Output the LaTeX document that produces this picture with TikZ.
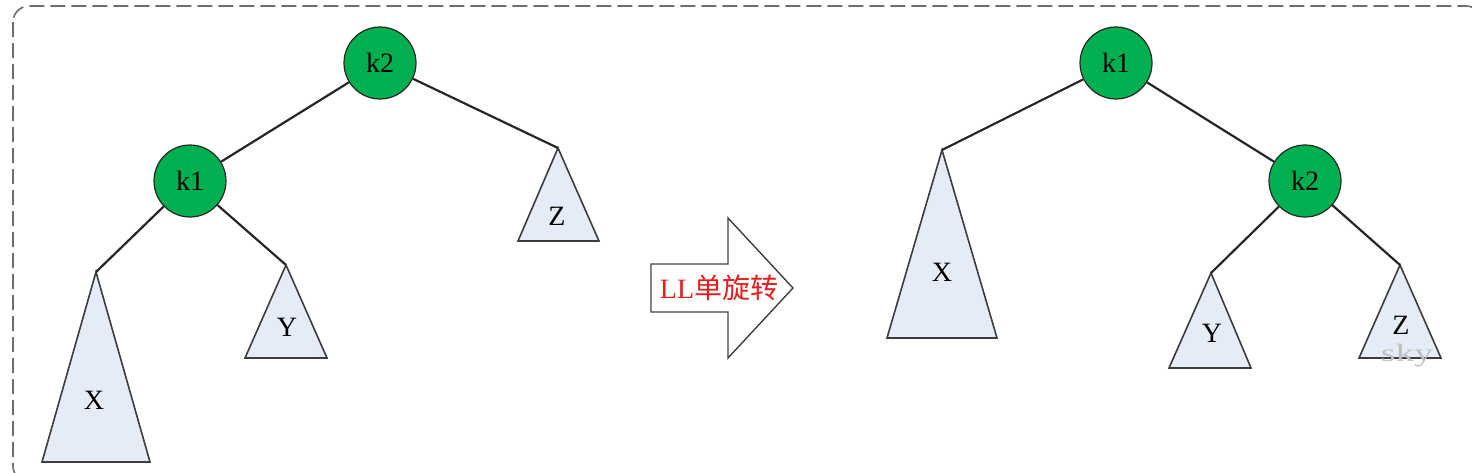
\documentclass[tikz,border=0pt]{standalone}
\usepackage{fontspec}
\setmainfont{Liberation Serif}
\newfontfamily\cjk{Noto Sans CJK SC}
\usetikzlibrary{calc}
\definecolor{nodegreen}{RGB}{0,176,80}
\definecolor{trifill}{RGB}{230,236,247}
\definecolor{tridraw}{RGB}{60,60,60}
\definecolor{bordergray}{RGB}{110,110,110}
\definecolor{labelred}{RGB}{230,30,30}
\tikzset{
  treenode/.style={circle,draw=black!85,line width=0.6pt,fill=nodegreen,minimum size=36pt,inner sep=0pt,font=\fontsize{14}{14}\selectfont},
  subtree/.style={draw=tridraw,line width=0.8pt,fill=trifill,line join=miter},
  edge/.style={draw=black!85,line width=1.1pt},
  trilabel/.style={font=\fontsize{14}{14}\selectfont,inner sep=0pt},
}
\begin{document}
\begin{tikzpicture}[x=0.5pt,y=-0.5pt]
\useasboundingbox (0,0) rectangle (1472,472);
% border
\draw[bordergray,dashed,dash pattern=on 7.5pt off 3pt,line width=0.8pt,rounded corners=8pt] (13,6) rectangle (1482,482);

% ---------- left tree ----------
\coordinate (LZa) at (558,148);
\coordinate (LXa) at (96,272);
\coordinate (LYa) at (286,265);
\path[subtree] (LZa) -- (599,241) -- (518,241) -- cycle;
\path[subtree] (LXa) -- (150,462) -- (42,462) -- cycle;
\path[subtree] (LYa) -- (327,358) -- (245,358) -- cycle;
\node[trilabel] (LZ) at (557,216) {Z};
\node[trilabel] (LX) at (94,400) {X};
\node[trilabel] (LY) at (287,327) {Y};

\node[treenode] (Lk2) at (380,63) {k2};
\node[treenode] (Lk1) at (190,181) {k1};
\draw[edge] (Lk2) -- (Lk1);
\draw[edge] (Lk2) -- (LZa);
\draw[edge] (Lk1) -- (LXa);
\draw[edge] (Lk1) -- (LYa);

% ---------- arrow ----------
\coordinate (A1) at (651,264);
\coordinate (A2) at (728,264);
\coordinate (A3) at (728,218);
\coordinate (A4) at (793,288);
\coordinate (A5) at (728,358);
\coordinate (A6) at (728,312);
\coordinate (A7) at (651,312);
\draw[draw=black!75,line width=0.7pt,fill=white] (A1) -- (A2) -- (A3) -- (A4) -- (A5) -- (A6) -- (A7) -- cycle;
\node[text=labelred,inner sep=0pt,font=\fontsize{14}{14}\selectfont] (rot) at (719,288) {LL{\cjk 单旋转}};

% ---------- right tree ----------
\coordinate (RXa) at (942,150);
\coordinate (RYa) at (1211,273);
\coordinate (RZa) at (1400,265);
\path[subtree] (RXa) -- (997,338) -- (887,338) -- cycle;
\path[subtree] (RYa) -- (1251,368) -- (1169,368) -- cycle;
\path[subtree] (RZa) -- (1441,358) -- (1359,358) -- cycle;
\node[trilabel] (RX) at (942,272) {X};
\node[trilabel] (RY) at (1212,333) {Y};
\node[trilabel] (RZ) at (1401,325) {Z};

\node[treenode] (Rk1) at (1116,63) {k1};
\node[treenode] (Rk2) at (1305,181) {k2};
\draw[edge] (Rk1) -- (RXa);
\draw[edge] (Rk1) -- (Rk2);
\draw[edge] (Rk2) -- (RYa);
\draw[edge] (Rk2) -- (RZa);

% watermark
\node[text=black!25,inner sep=0pt,anchor=base,font=\fontsize{12.5}{12.5}\selectfont] (sky) at (1407,361) {\scalebox{1.5}[1]{sky}};
\end{tikzpicture}
\end{document}
